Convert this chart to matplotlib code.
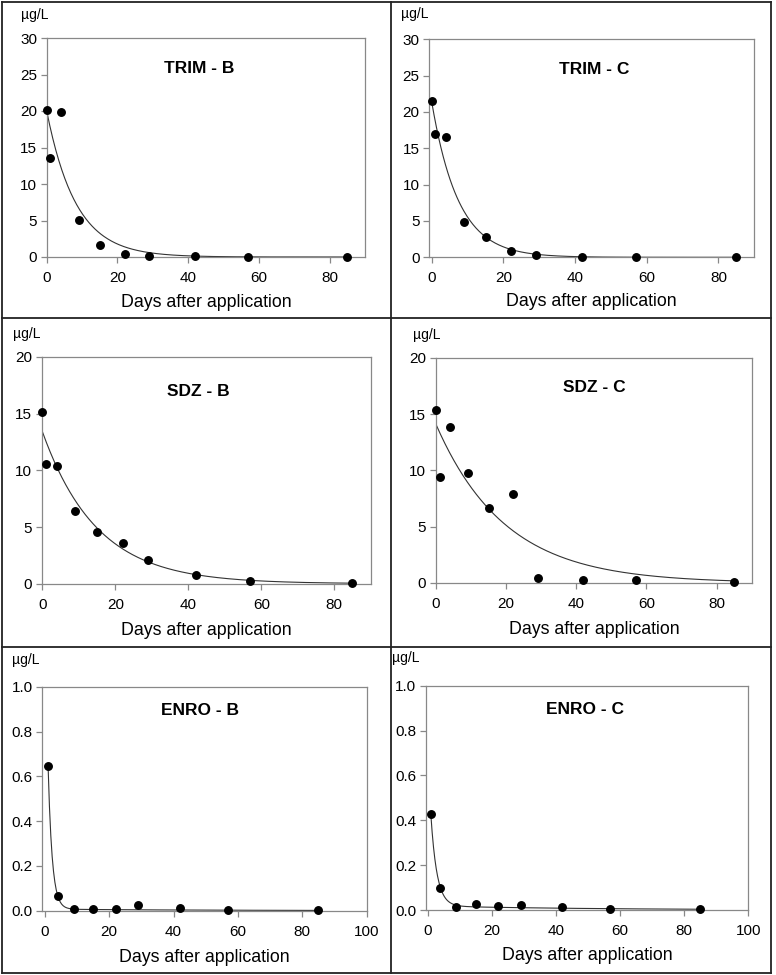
import numpy as np
import matplotlib
matplotlib.use('Agg')
import matplotlib.pyplot as plt
from matplotlib.lines import Line2D

plt.rcParams['font.family'] = ['Liberation Sans', 'DejaVu Sans']

# sampling days (same for every panel)
days = [0, 1, 4, 9, 15, 22, 29, 42, 57, 85]
days_enro = [1, 4, 9, 15, 22, 29, 42, 57, 85]

# measured concentrations, ug/L
trim_b = [20.2, 13.6, 19.9, 5.1, 1.6, 0.45, 0.15, 0.08, 0.05, 0.05]
trim_c = [21.5, 17.0, 16.5, 4.9, 2.85, 0.83, 0.37, 0.09, 0.06, 0.05]
sdz_b = [15.15, 10.6, 10.4, 6.4, 4.6, 3.6, 2.06, 0.8, 0.2, 0.03]
sdz_c = [15.4, 9.4, 13.9, 9.8, 6.67, 7.94, 0.44, 0.3, 0.24, 0.06]
enro_b = [0.645, 0.067, 0.008, 0.007, 0.006, 0.025, 0.013, 0.002, 0.002]
enro_c = [0.426, 0.10, 0.012, 0.025, 0.019, 0.021, 0.013, 0.0045, 0.003]

# fitted decay curves: c0*exp(-k1*(t-t0)) + c1*exp(-k2*(t-t0))
fit_c0 = [20.0, 21.3, 13.4, 14.1, 0.638, 0.410]
fit_k1 = [0.121, 0.135, 0.067, 0.0506, 0.79, 0.532]
fit_c1 = [0.0, 0.0, 0.0, 0.0, 0.007, 0.018]
fit_k2 = [0.0, 0.0, 0.0, 0.0, 0.02, 0.02]
fit_t0 = [0, 0, 0, 0, 1, 1]

titles = ['TRIM - B', 'TRIM - C', 'SDZ - B', 'SDZ - C', 'ENRO - B', 'ENRO - C']
series = [(days, trim_b), (days, trim_c), (days, sdz_b), (days, sdz_c),
          (days_enro, enro_b), (days_enro, enro_c)]

W, H = 776, 975
fig = plt.figure(figsize=(W / 100, H / 100), dpi=100)

# axes boxes in pixels: left, right, top, bottom
boxes = [(46.7, 365, 38, 257), (429.3, 754.3, 39.3, 257.3),
         (41.7, 370.7, 357, 583.7), (436, 751.7, 358, 583),
         (42.3, 366.7, 686.7, 910.7), (426, 748.3, 685.7, 910)]
xlims = [(0, 90), (-0.7, 90), (-0.2, 90), (0, 90), (-0.8, 100), (-0.5, 100)]
ylims = [(0, 30), (0, 30), (0, 20), (0, 20), (0, 1.0), (0, 1.0)]
yticks = [np.arange(0, 31, 5), np.arange(0, 31, 5), np.arange(0, 21, 5),
          np.arange(0, 21, 5), np.arange(0, 1.01, 0.2), np.arange(0, 1.01, 0.2)]
xticks = [np.arange(0, 81, 20)] * 4 + [np.arange(0, 101, 20)] * 2
title_pos = [(0.478, 0.86), (0.508, 0.86), (0.476, 0.846), (0.50, 0.867),
             (0.486, 0.893), (0.494, 0.896)]
unit_pos = [(21, 15), (401, 14), (13, 334), (413, 335), (12, 660), (392, 658)]
xlabel_y = [302.7, 301.7, 630.3, 629.7, 957.3, 955]

for i, (l, r, t, b) in enumerate(boxes):
    ax = fig.add_axes([l / W, 1 - b / H, (r - l) / W, (b - t) / H])
    x, y = series[i]
    tt = np.linspace(fit_t0[i], 85, 400)
    fit = (fit_c0[i] * np.exp(-fit_k1[i] * (tt - fit_t0[i]))
           + fit_c1[i] * np.exp(-fit_k2[i] * (tt - fit_t0[i])))
    ax.plot(tt, fit, color='#333333', lw=0.8, zorder=2)
    ax.plot(x, y, 'o', color='black', ms=5.4, zorder=3, clip_on=False)
    ax.set_xlim(*xlims[i])
    ax.set_ylim(*ylims[i])
    ax.set_xticks(xticks[i])
    ax.set_yticks(yticks[i])
    if i >= 4:
        ax.set_yticklabels([f'{v:.1f}' for v in yticks[i]])
    for s in ax.spines.values():
        s.set_color('#888888')
        s.set_linewidth(0.9)
    ax.tick_params(direction='out', length=4, width=0.9, color='#888888',
                   labelsize=11)
    ax.tick_params(axis='x', pad=6)
    ax.tick_params(axis='y', pad=3)
    ax.text(title_pos[i][0], title_pos[i][1], titles[i], transform=ax.transAxes,
            ha='center', va='center', fontsize=12.5, fontweight='bold')
    fig.text(unit_pos[i][0] / W, 1 - unit_pos[i][1] / H, 'µg/L',
             ha='left', va='center', fontsize=10)
    fig.text((l + r) / 2 / W, 1 - xlabel_y[i] / H, 'Days after application',
             ha='center', va='center', fontsize=12.8)

# panel frame lines
frame = dict(color='#222222', lw=1.3, transform=fig.transFigure)
for xs, ys in [((1.5, 771), (1.5, 1.5)), ((1.5, 771), (973, 973)),
               ((1.5, 1.5), (1.5, 973)), ((771, 771), (1.5, 973)),
               ((391, 391), (1.5, 973)), ((1.5, 771), (318, 318)),
               ((1.5, 771), (646.5, 646.5))]:
    fig.add_artist(Line2D([v / W for v in xs], [1 - v / H for v in ys], **frame))

fig.savefig('out.png', dpi=100)
